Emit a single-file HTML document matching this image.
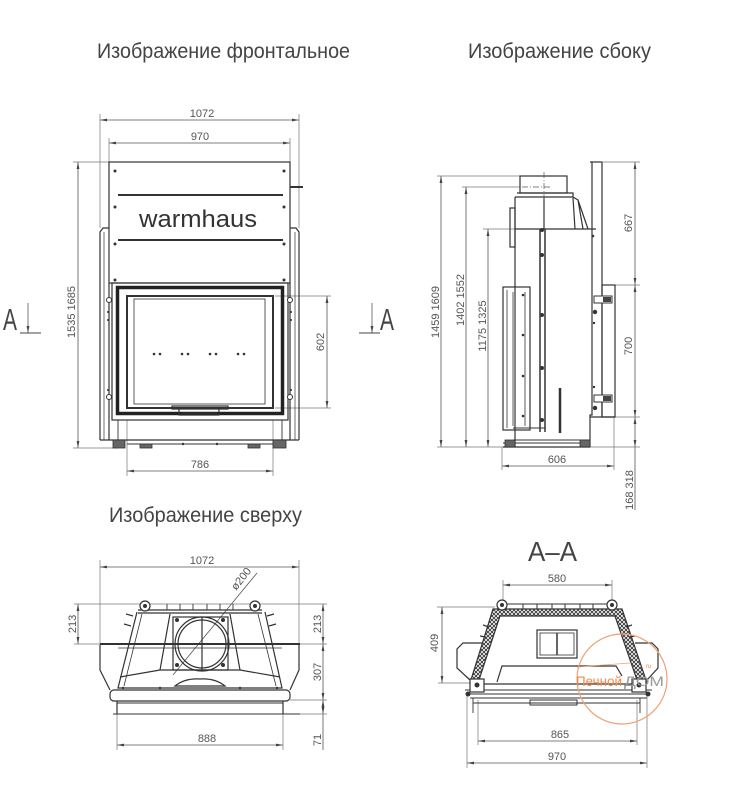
<!DOCTYPE html>
<html><head><meta charset="utf-8"><style>
html,body{margin:0;padding:0;background:#fff;}
svg{display:block}
text{font-family:"Liberation Sans Narrow","Liberation Sans",sans-serif;fill:#555;}
.t{font-size:21px;fill:#444}
.n{font-size:11px;fill:#555}
.d{stroke:#555;stroke-width:0.8;fill:none}
.e{stroke:#777;stroke-width:0.7;fill:none}
.b{stroke:#333;stroke-width:1.2;fill:none}
</style></head><body>
<svg width="734" height="800" viewBox="0 0 734 800" xmlns="http://www.w3.org/2000/svg">
<defs>
<marker id="a" viewBox="0 0 10 4" refX="10" refY="2" markerWidth="7" markerHeight="2.8" markerUnits="userSpaceOnUse" orient="auto-start-reverse"><path d="M0,0L10,2L0,4z" fill="#444"/></marker>
<pattern id="h" width="4" height="4" patternUnits="userSpaceOnUse"><rect width="4" height="4" fill="#fff"/><path d="M0,0L4,4M4,0L0,4" stroke="#333" stroke-width="0.9"/></pattern>
</defs>
<rect width="734" height="800" fill="#fff"/>

<!-- Titles -->
<text class="t" x="97" y="58" textLength="253" lengthAdjust="spacingAndGlyphs">Изображение фронтальное</text>
<text class="t" x="468" y="58" textLength="183" lengthAdjust="spacingAndGlyphs">Изображение сбоку</text>
<text class="t" x="109" y="522" textLength="193" lengthAdjust="spacingAndGlyphs">Изображение сверху</text>
<text x="528" y="561" textLength="49" lengthAdjust="spacingAndGlyphs" style="font-size:28px;fill:#444">A–A</text>

<!-- Section markers -->
<text x="3" y="330" textLength="14" lengthAdjust="spacingAndGlyphs" style="font-size:31px;fill:#444">A</text>
<line x1="28" y1="303" x2="28" y2="333" class="d" marker-end="url(#a)"/>
<line x1="20" y1="333" x2="41" y2="333" stroke="#444" stroke-width="1"/>
<text x="380" y="330" textLength="14" lengthAdjust="spacingAndGlyphs" style="font-size:31px;fill:#444">A</text>
<line x1="372" y1="303" x2="372" y2="333" class="d" marker-end="url(#a)"/>
<line x1="359" y1="333" x2="380" y2="333" stroke="#444" stroke-width="1"/>

<!-- ============ FRONT VIEW ============ -->
<g class="d" marker-start="url(#a)" marker-end="url(#a)">
<line x1="100" y1="120" x2="299" y2="120"/>
<line x1="109" y1="143" x2="290" y2="143"/>
<line x1="78" y1="162" x2="78" y2="448"/>
<line x1="327" y1="296" x2="327" y2="408"/>
<line x1="127" y1="471" x2="273" y2="471"/>
</g>
<path class="e" d="M100,114V228M299,114V228M109,138V162M290,138V162M73,162H109M73,448H118M275,296H331M275,408H331M127,420V476M273,420V476"/>
<text class="n" x="202" y="117" text-anchor="middle">1072</text>
<text class="n" x="200" y="140" text-anchor="middle">970</text>
<text class="n" transform="translate(75,312) rotate(-90)" text-anchor="middle">1535 1685</text>
<text class="n" transform="translate(324,342) rotate(-90)" text-anchor="middle">602</text>
<text class="n" x="200" y="468" text-anchor="middle">786</text>

<g class="b">
<rect x="109" y="162" width="181" height="121"/>
<path d="M109,283V440M290,283V440"/>
<path d="M100,440V232L103,228H109M299,440V232L296,228H290"/>
<path d="M104,232V440M295,232V440" stroke-width="0.7"/>
<path d="M100,440H299"/>
<rect x="112" y="283" width="176" height="137"/>
<rect x="117.5" y="287.5" width="165" height="126" stroke-width="3.5" stroke="#222"/>
<rect x="127" y="296" width="146" height="112" stroke-width="2"/>
<rect x="134" y="299" width="131" height="105" stroke-width="0.8"/>
<path d="M118,420V440M282,420V440M127,444H273" stroke-width="0.9"/>
<path d="M172,406H228V409H172ZM179,409V415H219V409M182,413H217" stroke-width="1.2"/>
</g>
<g stroke="#333" stroke-width="2"><path d="M118,195H283M118,240H283M290,187H303"/></g>
<text x="139" y="227" textLength="118" lengthAdjust="spacingAndGlyphs" style="font-family:'Liberation Sans',sans-serif;font-size:24px;fill:#333">warmhaus</text>
<g fill="#333">
<circle cx="115" cy="171" r="1.5"/><circle cx="115" cy="207" r="1.5"/><circle cx="115" cy="244" r="1.5"/><circle cx="115" cy="280" r="1.5"/>
<circle cx="284" cy="171" r="1.5"/><circle cx="284" cy="207" r="1.5"/><circle cx="284" cy="244" r="1.5"/><circle cx="284" cy="280" r="1.5"/>
<circle cx="154" cy="354" r="1.3"/><circle cx="160" cy="354" r="1.3"/><circle cx="182" cy="354" r="1.3"/><circle cx="188" cy="354" r="1.3"/>
<circle cx="210" cy="354" r="1.3"/><circle cx="216" cy="354" r="1.3"/><circle cx="238" cy="354" r="1.3"/><circle cx="244" cy="354" r="1.3"/>
<circle cx="108" cy="312" r="1"/><circle cx="108" cy="320" r="1"/><circle cx="108" cy="390" r="1"/>
<circle cx="291" cy="312" r="1"/><circle cx="291" cy="320" r="1"/><circle cx="291" cy="390" r="1"/>
<circle cx="183" cy="444" r="1.2"/><circle cx="217" cy="444" r="1.2"/>
</g>
<g fill="#fff" stroke="#333" stroke-width="1"><circle cx="109" cy="300" r="2.5"/><circle cx="109" cy="397" r="2.5"/><circle cx="290" cy="300" r="2.5"/><circle cx="290" cy="397" r="2.5"/></g>
<g fill="#666" stroke="#333" stroke-width="0.8">
<rect x="113" y="440" width="12" height="8"/><rect x="140" y="444" width="12" height="4"/>
<rect x="248" y="444" width="12" height="4"/><rect x="273" y="440" width="13" height="8"/>
</g>

<!-- ============ SIDE VIEW ============ -->
<g class="d" marker-start="url(#a)" marker-end="url(#a)">
<line x1="441" y1="176" x2="441" y2="447"/>
<line x1="466" y1="187" x2="466" y2="447"/>
<line x1="488" y1="229" x2="488" y2="447"/>
<line x1="635" y1="162" x2="635" y2="285"/>
<line x1="635" y1="285" x2="635" y2="417"/>
<line x1="635" y1="417" x2="635" y2="447"/>
<line x1="502" y1="466" x2="614" y2="466"/>
</g>
<line x1="635" y1="447" x2="635" y2="510" class="d"/>
<path class="e" d="M437,176H520M462,187H520M483,229H515M602,162H640M615,285H640M615,417H640M437,447H640M502,447V470M614,417V470"/>
<text class="n" transform="translate(439,312) rotate(-90)" text-anchor="middle">1459 1609</text>
<text class="n" transform="translate(464,300) rotate(-90)" text-anchor="middle">1402 1552</text>
<text class="n" transform="translate(486,326) rotate(-90)" text-anchor="middle">1175 1325</text>
<text class="n" transform="translate(632,223) rotate(-90)" text-anchor="middle">667</text>
<text class="n" transform="translate(632,346) rotate(-90)" text-anchor="middle">700</text>
<text class="n" transform="translate(633,490) rotate(-90)" text-anchor="middle">168 318</text>
<text class="n" x="557" y="463" text-anchor="middle">606</text>

<g class="b">
<rect x="520" y="176" width="47" height="17"/>
<path d="M517,193H573V197H515"/>
<path d="M515,197V447"/>
<path d="M573,197L578,200L583,229M578,200L588,229M573,198L575,229"/>
<path d="M544,197V229"/>
<path d="M515,229H596"/>
<path d="M592,162V415H590V447"/>
<path d="M602,162V417"/>
<path d="M590,162H602"/>
<rect x="602" y="285" width="13" height="132"/>
<path d="M590,417H615"/>
<rect x="510" y="208" width="5" height="39"/>
<rect x="503" y="287" width="27" height="143"/>
<path d="M507,290V428M513,292V426M525,292V426" stroke-width="0.8"/>
<path d="M540,229V432M545,229V432" stroke-width="1.5"/>
<path d="M513,428H545M513,440H590M503,443H590" stroke-width="0.9"/>
<path d="M560,388V433" stroke-width="2.5"/>
<path d="M503,447H590"/>
</g>
<path d="M544,172V200M522,187H552" stroke="#555" stroke-width="0.7" stroke-dasharray="6,2,1,2"/>
<g fill="#333">
<circle cx="542" cy="230" r="2"/><circle cx="542" cy="255" r="2"/><circle cx="542" cy="315" r="2"/><circle cx="542" cy="368" r="2"/><circle cx="542" cy="420" r="2"/>
<circle cx="523" cy="295" r="1.3"/><circle cx="523" cy="335" r="1.3"/><circle cx="523" cy="376" r="1.3"/><circle cx="523" cy="416" r="1.3"/>
<circle cx="595" cy="312" r="2.2"/><circle cx="594" cy="323" r="1.2"/><circle cx="594" cy="387" r="1.2"/><circle cx="595" cy="408" r="2.2"/>
<circle cx="593" cy="236" r="1.3"/>
</g>
<g stroke="#333" stroke-width="1" fill="#fff">
<rect x="594" y="296" width="18" height="7"/><rect x="594" y="395" width="18" height="7"/>
</g>
<g fill="#444"><rect x="603" y="297" width="8" height="5"/><rect x="603" y="396" width="8" height="5"/></g>
<g fill="#666" stroke="#333" stroke-width="0.8"><rect x="505" y="440" width="10" height="7"/><rect x="580" y="440" width="10" height="7"/></g>

<!-- ============ TOP VIEW ============ -->
<g class="d" marker-start="url(#a)" marker-end="url(#a)">
<line x1="100" y1="567" x2="299" y2="567"/>
<line x1="78" y1="604" x2="78" y2="644"/>
<line x1="323" y1="604" x2="323" y2="644"/>
<line x1="323" y1="644" x2="323" y2="700"/>
<line x1="323" y1="700" x2="323" y2="714"/>
<line x1="117" y1="745" x2="283" y2="745"/>
</g>
<line x1="323" y1="714" x2="323" y2="750" class="d"/>
<path class="e" d="M100,560V645M299,560V645M74,604H327M74,644H100M300,644H327M290,700H327M283,714H327M117,701V750M283,701V750"/>
<path class="d" d="M257,573L173,675"/>
<text class="n" x="202" y="564" text-anchor="middle">1072</text>
<text class="n" transform="translate(244,581) rotate(-52)" text-anchor="middle">ø200</text>
<text class="n" transform="translate(76,624) rotate(-90)" text-anchor="middle">213</text>
<text class="n" transform="translate(321,624) rotate(-90)" text-anchor="middle">213</text>
<text class="n" transform="translate(321,672) rotate(-90)" text-anchor="middle">307</text>
<text class="n" transform="translate(321,740) rotate(-90)" text-anchor="middle">71</text>
<text class="n" x="207" y="742" text-anchor="middle">888</text>

<g class="b">
<path d="M138,610H262M138,613H262"/>
<path d="M167,604V610M180,604V610M193,604V610M207,604V610M220,604V610M233,604V610" stroke-width="0.9"/>
<path d="M137,612L118,688H282L265,612"/>
<path d="M142,614L124,686M258,614L276,686" stroke-width="0.8"/>
<path d="M100,645V670L110,690M299,645V670L290,690"/>
<path d="M100,644H300" stroke-width="2"/>
<path d="M118,648H282" stroke-width="0.8"/>
<path d="M170,614L160,670M230,614L240,670"/>
<rect x="173" y="617" width="55" height="53"/>
<path d="M120,677L160,670H240L280,677"/>
<rect x="110" y="690" width="180" height="11" rx="4"/>
<path d="M117,703H283M113,714H300" stroke-width="0.9"/>
<path d="M117,701V714M283,701V714"/>
<path d="M175,686Q185,678 200,679Q215,678 225,686Z" stroke-width="1.2"/>
<path d="M126,614L133,616M124,624L131,626M274,614L267,616M276,624L269,626" stroke-width="1.2"/>
</g>
<circle cx="202" cy="644" r="27" class="b" stroke-width="1.5"/>
<circle cx="202" cy="644" r="24" class="b" stroke-width="0.8"/>
<path d="M202,617V671" class="b" stroke-width="0.8"/>
<g fill="#fff" stroke="#333" stroke-width="1.2">
<circle cx="145" cy="606" r="5"/><circle cx="255" cy="606" r="5"/>
</g>
<g fill="#333">
<circle cx="145" cy="606" r="2"/><circle cx="255" cy="606" r="2"/>
<circle cx="177" cy="620" r="2"/><circle cx="223" cy="620" r="2"/><circle cx="177" cy="665" r="2"/><circle cx="223" cy="665" r="2"/>
<circle cx="123" cy="688" r="1.2"/><circle cx="160" cy="688" r="1.2"/><circle cx="240" cy="688" r="1.2"/><circle cx="277" cy="688" r="1.2"/>
</g>

<!-- ============ SECTION A-A ============ -->
<g class="d" marker-start="url(#a)" marker-end="url(#a)">
<line x1="503" y1="585" x2="612" y2="585"/>
<line x1="442" y1="607" x2="442" y2="683"/>
<line x1="478" y1="741" x2="637" y2="741"/>
<line x1="467" y1="763" x2="647" y2="763"/>
</g>
<path class="e" d="M503,580V600M612,580V600M437,607H495M438,683H470M467,692V768M647,692V768M478,700V745M637,700V745"/>
<text class="n" x="557" y="582" text-anchor="middle">580</text>
<text class="n" transform="translate(438,643) rotate(-90)" text-anchor="middle">409</text>
<text class="n" x="560" y="738" text-anchor="middle">865</text>
<text class="n" x="557" y="760" text-anchor="middle">970</text>

<path d="M470,683L493,609H622L647,683H638L615,616H500L478,683Z" fill="url(#h)" stroke="#333" stroke-width="1.2"/>
<g class="b">
<path d="M507,604H607" stroke-width="0.9"/>
<path d="M523,604V609M537,604V609M552,604V609M565,604V609M580,604V609M593,604V609" stroke-width="1"/>
<path d="M483,643H463L457,649V668L470,680"/>
<path d="M635,643H652L658,649V668L647,680"/>
<rect x="537" y="630" width="40" height="28"/>
<rect x="540" y="633" width="34" height="22" stroke-width="0.8"/>
<path d="M557,633V655" stroke-width="1.5"/>
<path d="M497,682L502,666H616L622,676"/>
<path d="M484,684H632"/>
<path d="M465,690H652M467,694H650M470,698H647" stroke-width="1"/>
<path d="M473,698V713M640,698V713M473,703H640" stroke-width="0.9"/>
<rect x="530" y="700" width="47" height="5" stroke-width="1"/>
<path d="M483,625L489,627M480,636L486,637M632,625L626,627M635,636L629,637" stroke-width="1.2"/>
</g>
<g fill="#fff" stroke="#333" stroke-width="1.2">
<circle cx="502" cy="605" r="5"/><circle cx="612" cy="605" r="5"/>
<rect x="470" y="679" width="14" height="13"/><rect x="632" y="679" width="14" height="13"/>
</g>
<g fill="#333">
<circle cx="502" cy="605" r="2"/><circle cx="612" cy="605" r="2"/>
<circle cx="477" cy="685" r="2.5"/><circle cx="639" cy="685" r="2.5"/>
<circle cx="468" cy="694" r="2.5"/><circle cx="648" cy="694" r="2.5"/>
</g>

<!-- watermark -->
<circle cx="622" cy="679" r="45" fill="none" stroke="#f0a070" stroke-width="1.2"/>
<path d="M577,667L630,663" stroke="#f0a070" stroke-width="0.8"/>
<text x="576" y="686" style="font-family:'Liberation Sans',sans-serif;font-size:14px;fill:#f08848" textLength="46" lengthAdjust="spacingAndGlyphs">Печной</text>
<text x="624" y="686" style="font-family:'Liberation Sans',sans-serif;font-size:14px;fill:#999" textLength="40" lengthAdjust="spacingAndGlyphs">ДОМ</text>
<text x="646" y="668" style="font-family:'Liberation Sans',sans-serif;font-size:6px;fill:#f08848">ru</text>
</svg>
</body></html>
